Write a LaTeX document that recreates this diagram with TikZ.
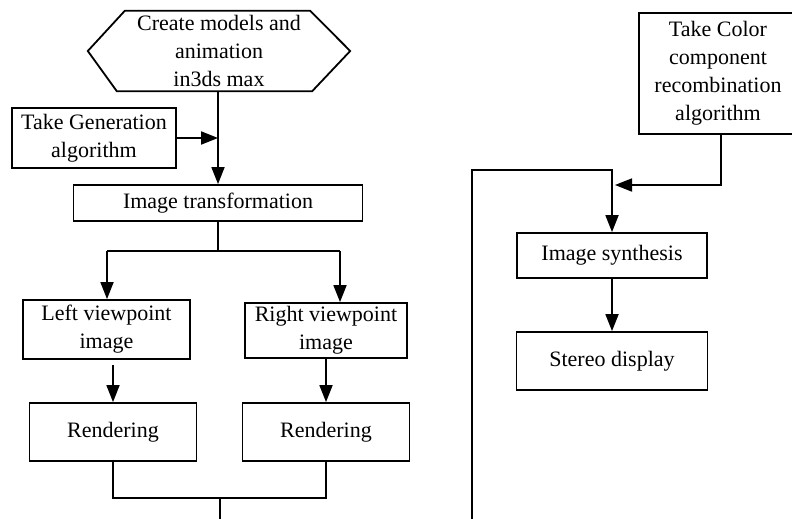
\documentclass[tikz,border=0pt]{standalone}
\usepackage{fontspec}
\setmainfont{Liberation Serif}
\usetikzlibrary{arrows.meta}
\tikzset{
  every node/.style={font=\fontsize{22}{28}\selectfont, text=black},
  boxnode/.style={draw, line width=1.8pt, inner sep=0pt, align=center},
  conn/.style={line width=1.8pt},
  arr/.style={conn, -{Triangle[length=17pt,width=13pt]}},
}
\begin{document}
\begin{tikzpicture}[x=1pt,y=-1pt]
\useasboundingbox (0,0) rectangle (792,519);
\clip (0,0) rectangle (792,519);
% nodes
\node[inner sep=0pt, minimum width=262pt, minimum height=80pt, align=center] (hex) at (219,51) {Create models and\\animation\\in3ds max};
\draw[conn] (hex.west) -- ([xshift=37pt]hex.north west) -- ([xshift=-40pt]hex.north east) -- (hex.east) -- ([xshift=-38pt]hex.south east) -- ([xshift=29pt]hex.south west) -- cycle;
\node[boxnode, minimum width=164pt, minimum height=60pt] (gen) at (94,138) {Take Generation\\algorithm};
\node[boxnode, minimum width=289pt, minimum height=36pt] (trans) at (218,203) {Image transformation};
\node[boxnode, minimum width=167pt, minimum height=59pt] (left) at (106.5,329.5) {Left viewpoint\\image};
\node[boxnode, minimum width=162pt, minimum height=55pt] (right) at (326,330.5) {Right viewpoint\\image};
\node[boxnode, minimum width=167pt, minimum height=58pt] (rendL) at (113,432) {Rendering};
\node[boxnode, minimum width=167pt, minimum height=58pt] (rendR) at (326,432) {Rendering};
\node[boxnode, minimum width=158pt, minimum height=121pt] (color) at (718,73.5) {Take Color\\component\\recombination\\algorithm};
\node[boxnode, minimum width=190pt, minimum height=45pt] (synth) at (612,255.5) {Image synthesis};
\node[boxnode, minimum width=191pt, minimum height=58pt] (stereo) at (612,361) {Stereo display};
% coordinates
\coordinate (split) at (218,251);
\coordinate (sL) at (107,251);
\coordinate (sR) at (340,251);
\coordinate (aL) at (113,365);
\coordinate (join) at (220,498);
\coordinate (out) at (220,519);
\coordinate (cin) at (615,185);
\coordinate (lb) at (472,519);
\coordinate (ltop) at (472,170);
% connectors
\draw[arr] (hex.south -| trans.north) -- (trans.north);
\draw[arr] (gen.east) -- (gen.east -| trans.north);
\draw[conn] (trans.south) -- (split);
\draw[conn] (sL) -- (sR);
\draw[arr] (sL) -- (sL |- left.north);
\draw[arr] (sR) -- (sR |- right.north);
\draw[arr] (aL) -- (aL |- rendL.north);
\draw[arr] (right.south) -- (right.south |- rendR.north);
\draw[conn] (rendL.south) |- (join) -| (rendR.south);
\draw[conn] (join) -- (out);
\draw[arr] ([xshift=3pt]color.south) |- (cin);
\draw[arr] (lb) -- (ltop) -| (synth.north);
\draw[arr] (synth.south) -- (stereo.north);
\end{tikzpicture}
\end{document}
